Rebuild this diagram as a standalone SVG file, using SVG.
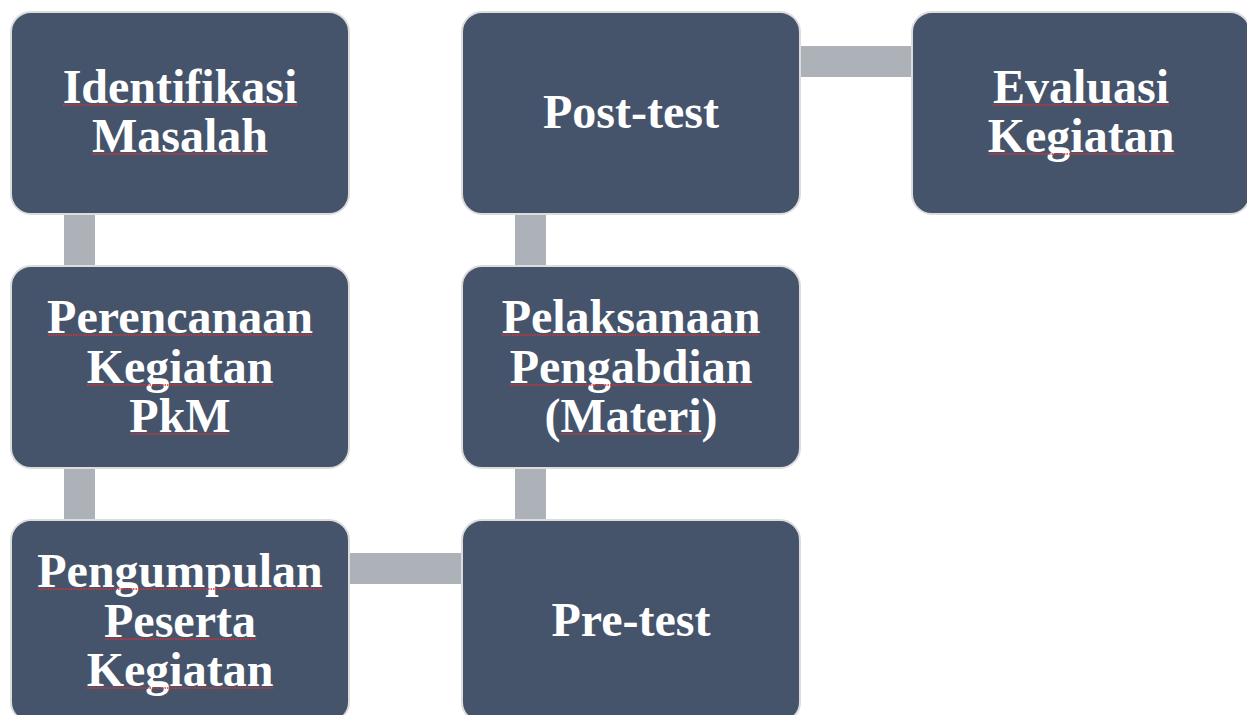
<svg xmlns="http://www.w3.org/2000/svg" width="1247" height="715" viewBox="0 0 1247 715">
<style>
.box{fill:#45546b;stroke:#dcdcdc;stroke-width:2}
.con{fill:#adb1b8}
.t{font-family:"Liberation Serif","Times New Roman",serif;font-weight:bold;font-size:48px;fill:#ffffff;text-anchor:middle}
.sp{stroke:#e03030;stroke-width:1.3;stroke-dasharray:1.5 1;fill:none}
</style>
<rect width="1247" height="715" fill="#ffffff"/>
<g id="connectors">
<rect class="con" x="64" y="214" width="31" height="51"/>
<rect class="con" x="64" y="468" width="31" height="51"/>
<rect class="con" x="349" y="553" width="112" height="31"/>
<rect class="con" x="515" y="468" width="31" height="51"/>
<rect class="con" x="515" y="214" width="31" height="51"/>
<rect class="con" x="800" y="46" width="111" height="31"/>
</g>
<g id="n1">
<rect class="box" x="11" y="12" width="338" height="202" rx="20"/>
<text class="t" x="180" y="103">Identifikasi</text>
<text class="t" x="180" y="152">Masalah</text>
<path class="sp" d="M63 105H297M92 154H268"/>
</g>
<g id="n2">
<rect class="box" x="11" y="266" width="338" height="202" rx="20"/>
<text class="t" x="180" y="333">Perencanaan</text>
<text class="t" x="180" y="383">Kegiatan</text>
<text class="t" x="180" y="432">PkM</text>
<path class="sp" d="M48 335H312M87 385H273M131 434H229"/>
</g>
<g id="n3">
<rect class="box" x="11" y="520" width="338" height="202" rx="20"/>
<text class="t" x="180" y="587">Pengumpulan</text>
<text class="t" x="180" y="637">Peserta</text>
<text class="t" x="180" y="686">Kegiatan</text>
<path class="sp" d="M38 589H322M105 639H257M87 688H273"/>
</g>
<g id="n4">
<rect class="box" x="462" y="520" width="338" height="202" rx="20"/>
<text class="t" x="631" y="636">Pre-test</text>
</g>
<g id="n5">
<rect class="box" x="462" y="266" width="338" height="202" rx="20"/>
<text class="t" x="631" y="333">Pelaksanaan</text>
<text class="t" x="631" y="383">Pengabdian</text>
<text class="t" x="631" y="432">(Materi)</text>
<path class="sp" d="M502 335H759M510 385H752M561 434H703"/>
</g>
<g id="n6">
<rect class="box" x="462" y="12" width="338" height="202" rx="20"/>
<text class="t" x="631" y="128">Post-test</text>
</g>
<g id="n7">
<rect class="box" x="912" y="12" width="338" height="202" rx="20"/>
<text class="t" x="1081" y="103">Evaluasi</text>
<text class="t" x="1081" y="152">Kegiatan</text>
<path class="sp" d="M993 105H1169M989 154H1175"/>
</g>
</svg>
